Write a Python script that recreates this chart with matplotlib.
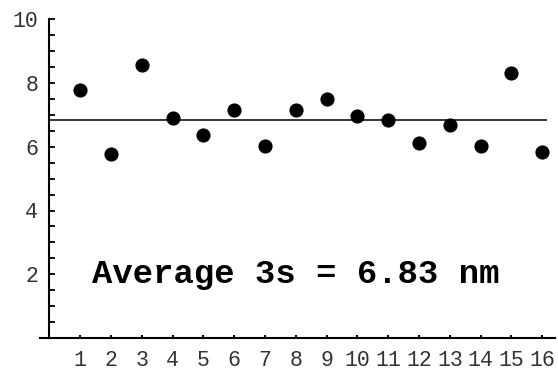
import numpy as np
import matplotlib.pyplot as plt
from matplotlib.ticker import MultipleLocator

# --- Data: 3-sigma values per measurement ---
samples = np.arange(1, 17)
three_sigma = [7.76, 5.77, 8.56, 6.89, 6.35, 7.15, 6.03, 7.15,
               7.49, 6.95, 6.83, 6.10, 6.69, 6.03, 8.29, 5.83]
average = 6.83
y_ticks = [2, 4, 6, 8, 10]

fig = plt.figure(figsize=(5.58, 3.71), dpi=100)
ax = fig.add_axes([40 / 558, 32.7 / 371, 514.6 / 558, 319.5 / 371])

ax.plot(samples, three_sigma, "o", color="black", markersize=9.2)
ax.hlines(average, 0, 16.15, color="black", linewidth=1.1)

ax.text(8.0, 2, f"Average 3s = {average:.2f} nm", family="Liberation Mono",
        fontweight="bold", fontsize=24.4, ha="center", va="center")

# --- Axes styling (Mathematica-like) ---
ax.set_xlim(-0.3, 16.4)
ax.set_ylim(0, 10)
for side in ["top", "right"]:
    ax.spines[side].set_visible(False)
ax.spines["left"].set_position(("data", 0))
ax.spines["left"].set_linewidth(1.5)
ax.spines["bottom"].set_linewidth(1.5)

ax.set_xticks(samples)
ax.set_yticks(y_ticks)
ax.yaxis.set_minor_locator(MultipleLocator(0.5))
ax.tick_params(axis="y", which="both", direction="in", length=4.5, width=1.3,
               pad=8)
ax.tick_params(axis="x", direction="in", length=2, width=1.5, pad=8.5)
for lbl in ax.get_xticklabels() + ax.get_yticklabels():
    lbl.set_family("Liberation Mono")
    lbl.set_fontsize(15.5)
    lbl.set_color("#333333")

fig.savefig("out.png", dpi=100)
